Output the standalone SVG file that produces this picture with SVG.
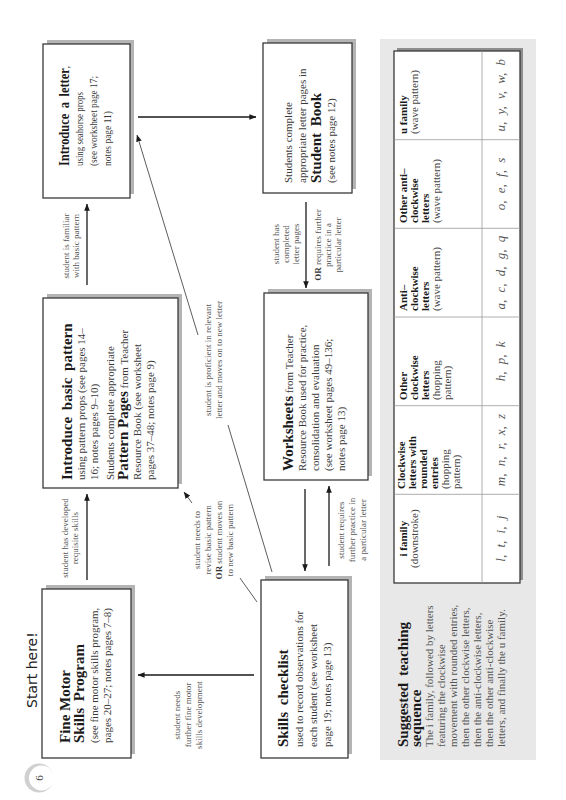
<svg xmlns="http://www.w3.org/2000/svg" width="566" height="800" viewBox="0 0 566 800">
<defs>
<marker id="ah" viewBox="0 0 10 10" refX="9.5" refY="5" markerWidth="7" markerHeight="7" markerUnits="userSpaceOnUse" orient="auto"><path d="M0,1 L10,5 L0,9 z" fill="#1a1a1a"/></marker>
</defs>
<style>
.box{fill:#fff;stroke:#3a3a3a;stroke-width:1.3}
.sh{fill:#b4b4b4}
.tr{font-family:"Liberation Serif","Times New Roman",serif;font-size:11px;fill:#3a3a3a}
.tb{font-family:"Liberation Serif","Times New Roman",serif;font-size:15px;font-weight:bold;fill:#1a1a1a}
.bi{font-size:15px;font-weight:bold;fill:#1a1a1a}
.lb{font-family:"Liberation Serif","Times New Roman",serif;font-size:9px;fill:#555;text-anchor:middle}
.lbb{font-weight:bold;fill:#333}
.hb{font-family:"Liberation Serif","Times New Roman",serif;font-size:11px;font-weight:bold;fill:#1a1a1a}
.hr{font-family:"Liberation Serif","Times New Roman",serif;font-size:11px;fill:#444}
.lt{font-family:"Liberation Serif","Times New Roman",serif;font-size:13px;font-style:italic;fill:#555;text-anchor:middle;word-spacing:4px}
.c{stroke:#1a1a1a;stroke-width:1.3;fill:none}
.cd{stroke:#333;stroke-width:0.8;fill:none}
.grid{stroke:#999;stroke-width:0.8}
.sq{font-family:"Liberation Serif","Times New Roman",serif;font-size:11px;fill:#555}
</style>
<rect width="566" height="800" fill="#fff"/>
<g transform="translate(0,800) rotate(-90)">

<g id="start-here">
<text x="92" y="37" font-family="DejaVu Sans, sans-serif" font-size="14" fill="#222">Start here!</text>
</g>

<g id="page-number">
<circle cx="22" cy="39" r="14.5" fill="#d0d0d0"/>
<circle cx="22" cy="41.5" r="12.5" fill="#fff"/>
<text x="22" y="43" font-family="Liberation Serif, serif" font-size="11" fill="#444" text-anchor="middle">6</text>
</g>

<g id="fine-motor">
<rect class="sh" x="46" y="46" width="169" height="89"/>
<rect class="box" x="42" y="42" width="169" height="89"/>
<text class="tb" x="57" y="70">Fine Motor</text>
<text class="tb" x="57" y="84" word-spacing="3">Skills Program</text>
<text class="tr" x="57" y="98">(see fine motor skills program,</text>
<text class="tr" x="57" y="111">pages 20–27; notes pages 7–8)</text>
</g>

<g id="skills-checklist">
<rect class="sh" x="46" y="265" width="178" height="87"/>
<rect class="box" x="42" y="261" width="178" height="87"/>
<text class="tb" x="53" y="288" word-spacing="3">Skills checklist</text>
<text class="tr" x="53" y="303">used to record observations for</text>
<text class="tr" x="53" y="317">each student (see worksheet</text>
<text class="tr" x="53" y="331">page 19; notes page 13)</text>
</g>

<g id="introduce-basic-pattern">
<rect class="sh" x="316" y="47" width="190" height="135"/>
<rect class="box" x="312" y="43" width="190" height="135"/>
<text class="tb" x="320" y="72" word-spacing="3">Introduce basic pattern</text>
<text class="tr" x="320" y="85">using pattern props (see pages 14–</text>
<text class="tr" x="320" y="98">16; notes pages 9–10)</text>
<text class="tr" x="320" y="114">Students complete appropriate</text>
<text class="tr" x="320" y="128"><tspan class="bi">Pattern Pages</tspan> from Teacher</text>
<text class="tr" x="320" y="141">Resource Book (see worksheet</text>
<text class="tr" x="320" y="154">pages 37–48; notes page 9)</text>
</g>

<g id="worksheets">
<rect class="sh" x="324" y="268" width="187" height="104"/>
<rect class="box" x="320" y="264" width="187" height="104"/>
<text class="tr" x="329" y="293"><tspan class="bi">Worksheets</tspan> from Teacher</text>
<text class="tr" x="329" y="306">Resource Book used for practice,</text>
<text class="tr" x="329" y="319">consolidation and evaluation</text>
<text class="tr" x="329" y="332">(see worksheet pages 49–136;</text>
<text class="tr" x="329" y="345">notes page 13)</text>
</g>

<g id="introduce-letter">
<rect class="sh" x="606" y="47" width="154" height="87"/>
<rect class="box" x="602" y="43" width="154" height="87"/>
<text class="tb" x="634" y="69" font-size="14" word-spacing="3" textLength="100" lengthAdjust="spacingAndGlyphs">Introduce a letter<tspan font-weight="normal" font-size="11">,</tspan></text>
<text class="tr" x="634" y="83" font-size="10" textLength="74" lengthAdjust="spacingAndGlyphs">using seahorse props</text>
<text class="tr" x="634" y="97" font-size="10" textLength="90" lengthAdjust="spacingAndGlyphs">(see worksheet page 17;</text>
<text class="tr" x="634" y="111" font-size="10" textLength="55" lengthAdjust="spacingAndGlyphs">notes page 11)</text>
</g>

<g id="student-book">
<rect class="sh" x="611" y="267" width="150" height="89"/>
<rect class="box" x="607" y="263" width="150" height="89"/>
<text class="tr" x="617" y="292">Students complete</text>
<text class="tr" x="617" y="306">appropriate letter pages in</text>
<text class="tb" x="617" y="321" word-spacing="3">Student Book</text>
<text class="tr" x="617" y="335">(see notes page 12)</text>
</g>

<g id="teaching-sequence">
<rect x="40" y="380" width="721" height="156" fill="#e8e8e8"/>
<text class="tb" x="53" y="408" word-spacing="3">Suggested teaching</text>
<text class="tb" x="53" y="421">sequence</text>
<text class="sq" x="53" y="433">The i family, followed by letters</text>
<text class="sq" x="53" y="445">featuring the clockwise</text>
<text class="sq" x="53" y="457">movement with rounded entries,</text>
<text class="sq" x="53" y="469">then the other clockwise letters,</text>
<text class="sq" x="53" y="481">then the anti-clockwise letters,</text>
<text class="sq" x="53" y="493">then the other anti-clockwise</text>
<text class="sq" x="53" y="505">letters, and finally the u family.</text>
<rect x="220" y="397" width="532" height="126" fill="#8e8e8e"/>
<rect x="217" y="394" width="532" height="126" fill="#fff" stroke="#3a3a3a" stroke-width="1.3"/>
<line class="grid" x1="305.7" y1="394" x2="305.7" y2="520"/>
<line class="grid" x1="394.3" y1="394" x2="394.3" y2="520"/>
<line class="grid" x1="483" y1="394" x2="483" y2="520"/>
<line class="grid" x1="571.7" y1="394" x2="571.7" y2="520"/>
<line class="grid" x1="660.3" y1="394" x2="660.3" y2="520"/>
<line class="grid" x1="217" y1="482" x2="749" y2="482"/>
<text class="hb" x="261.3" y="407" text-anchor="middle">i family</text>
<text class="hr" x="261.3" y="418" text-anchor="middle">(downstroke)</text>
<text class="hb" x="311" y="405">Clockwise</text>
<text class="hb" x="311" y="416">letters with</text>
<text class="hb" x="311" y="427">rounded</text>
<text class="hb" x="311" y="438">entries</text>
<text class="hr" x="311" y="449">(hopping</text>
<text class="hr" x="311" y="460">pattern)</text>
<text class="hb" x="400" y="407">Other</text>
<text class="hb" x="400" y="418">clockwise</text>
<text class="hb" x="400" y="429">letters</text>
<text class="hr" x="400" y="440">(hopping</text>
<text class="hr" x="400" y="451">pattern)</text>
<text class="hb" x="489" y="407">Anti–</text>
<text class="hb" x="489" y="418">clockwise</text>
<text class="hb" x="489" y="429">letters</text>
<text class="hr" x="489" y="440">(wave pattern)</text>
<text class="hb" x="577" y="407">Other anti–</text>
<text class="hb" x="577" y="418">clockwise</text>
<text class="hb" x="577" y="429">letters</text>
<text class="hr" x="577" y="440">(wave pattern)</text>
<text class="hb" x="666" y="407">u family</text>
<text class="hr" x="666" y="418">(wave pattern)</text>
<text class="lt" x="261.3" y="505">l, t, i, j</text>
<text class="lt" x="350" y="505">m, n, r, x, z</text>
<text class="lt" x="438.7" y="505">h, p, k</text>
<text class="lt" x="527.3" y="505">a, c, d, g, q</text>
<text class="lt" x="616" y="505">o, e, f, s</text>
<text class="lt" x="704.7" y="505">u, y, v, w, b</text>
</g>

<g id="connectors">
<line class="c" x1="220" y1="87" x2="306" y2="87" marker-end="url(#ah)"/>
<line class="c" x1="515" y1="87" x2="596" y2="87" marker-end="url(#ah)"/>
<line class="c" x1="683" y1="138" x2="683" y2="256" marker-end="url(#ah)"/>
<line class="c" x1="598" y1="306" x2="512" y2="306" marker-end="url(#ah)"/>
<line class="c" x1="311" y1="305" x2="229" y2="305" marker-end="url(#ah)"/>
<line class="c" x1="234" y1="329" x2="314" y2="329" marker-end="url(#ah)"/>
<line class="c" x1="125" y1="254" x2="125" y2="138" marker-end="url(#ah)"/>
<line class="cd" x1="198" y1="257" x2="222" y2="240"/>
<line class="cd" x1="297" y1="192" x2="308" y2="184" marker-end="url(#ah)"/>
<line class="cd" x1="228" y1="272" x2="375" y2="228"/>
<line class="cd" x1="465" y1="198" x2="665" y2="137" marker-end="url(#ah)"/>
<text class="lb" x="262" y="68">student has developed</text>
<text class="lb" x="262" y="78">requisite skills</text>
<text class="lb" x="554" y="69">student is familiar</text>
<text class="lb" x="554" y="79">with basic pattern</text>
<text class="lb" x="556" y="279">student has</text>
<text class="lb" x="556" y="289">completed</text>
<text class="lb" x="556" y="299">letter pages</text>
<text class="lb" x="555" y="321"><tspan class="lbb">OR</tspan> requires further</text>
<text class="lb" x="555" y="331">practice in a</text>
<text class="lb" x="555" y="341">particular letter</text>
<text class="lb" x="270" y="344">student requires</text>
<text class="lb" x="270" y="355">further practice in</text>
<text class="lb" x="270" y="366">a particular letter</text>
<text class="lb" x="85" y="180">student needs</text>
<text class="lb" x="85" y="191">further fine motor</text>
<text class="lb" x="85" y="202">skills development</text>
<text class="lb" x="260" y="200">student needs to</text>
<text class="lb" x="260" y="211">revise basic pattern</text>
<text class="lb" x="260" y="222"><tspan class="lbb">OR</tspan> student moves on</text>
<text class="lb" x="260" y="233">to new basic pattern</text>
<text class="lb" x="440" y="211">student is proficient in relevant</text>
<text class="lb" x="440" y="222">letter and moves on to new letter</text>
</g>

</g>
</svg>
